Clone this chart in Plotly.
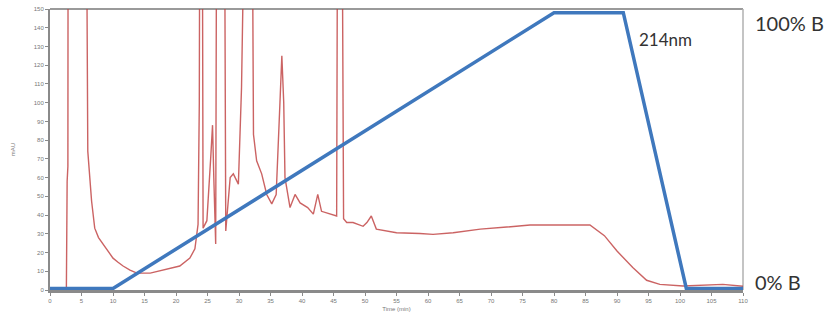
import plotly.graph_objects as go

# Chromatogram (214 nm) — time in min, absorbance in mAU (values > 150 are off-scale)
time_min = [0, 1, 2, 2.6, 2.72, 2.78, 2.84, 2.92, 5.6, 5.8, 6.0, 6.6, 7.1, 7.7, 8.4, 9.2, 10, 10.8,
            11.6, 12.7, 13.8, 15.9, 18, 20.6, 22.2, 23.0, 23.5, 23.7, 23.9, 24.05, 24.3, 24.9,
            25.5, 25.8, 26.0, 26.3, 26.6, 27.5, 27.9, 28.6, 29.1, 29.9, 30.4, 30.9, 31.8, 32.3,
            32.8, 33.6, 34.4, 35.2, 35.9, 36.5, 36.8, 37.1, 37.3, 38.1, 38.9, 39.7, 40.9, 41.8,
            42.5, 43.1, 44.4, 45.5, 45.8, 46.1, 46.6, 47.1, 48.1, 49.7, 50.3, 51.0, 51.8, 55,
            58.7, 60.8, 64, 68.3, 72.5, 76.2, 81, 85.7, 88, 90, 92.5, 94.7, 96.8, 100.5, 106.8, 110]
signal_mau = [1, 1, 1, 1, 58, 63, 66, 400, 400, 200, 74, 47.5, 33, 28, 24.5, 20.5, 17, 14.8,
              12.8, 10.6, 9, 9, 10.7, 12.8, 17, 22, 35, 100, 400, 400, 33, 37,
              70, 88, 60, 24.5, 400, 400, 31.5, 60, 62, 56.5, 108, 400, 400, 83,
              69, 62, 51, 46, 51, 100, 125, 100, 60, 44, 51, 46.5, 44, 40.5,
              51, 42, 40.5, 39.5, 400, 400, 38, 36, 36, 34, 36, 39.5, 32.5, 30.6,
              30.2, 29.7, 30.6, 32.5, 33.6, 34.7, 34.7, 34.7, 29, 20.8, 12, 5.2, 3, 2.1, 3, 2]

# Gradient program (% B)
grad_time = [0, 10, 80, 91, 101, 110]
grad_pct_b = [0, 0, 100, 100, 0, 0]

x_ticks = list(range(0, 111, 5))
y_ticks = list(range(0, 151, 10))

fig = go.Figure()
fig.add_trace(go.Scatter(x=time_min, y=signal_mau, mode="lines",
                         line=dict(color="rgba(190,60,60,0.8)", width=1.4),
                         showlegend=False, hoverinfo="skip"))
fig.add_trace(go.Scatter(x=grad_time, y=grad_pct_b, mode="lines", yaxis="y2",
                         line=dict(color="#3f78bd", width=3.5),
                         showlegend=False, hoverinfo="skip"))

tick_font = dict(family="Liberation Sans, Arial, sans-serif", size=6, color="#777777")

fig.update_layout(
    width=835, height=320,
    margin=dict(l=50, r=92, t=9, b=30, autoexpand=False),
    paper_bgcolor="white", plot_bgcolor="white",
    xaxis=dict(range=[0, 110], tickvals=x_ticks, ticktext=[str(v) for v in x_ticks],
               showgrid=False, zeroline=False, showline=True, linecolor="#8a8a8a",
               linewidth=3, ticks="outside", ticklen=3, tickcolor="#8a8a8a",
               tickfont=tick_font, layer="below traces", automargin=False,
               title=dict(text="Time (min)", font=tick_font, standoff=4)),
    yaxis=dict(range=[0, 150], tickvals=y_ticks, ticktext=[str(v) for v in y_ticks],
               showgrid=False, zeroline=False, showline=True, linecolor="#8a8a8a",
               linewidth=2, ticks="outside", ticklen=3, tickcolor="#8a8a8a",
               tickfont=tick_font, layer="below traces", automargin=False,
               title=dict(text="mAU", font=tick_font, standoff=18)),
    yaxis2=dict(range=[-0.55, 101.35], overlaying="y", side="right", visible=False,
                automargin=False),
    shapes=[
        dict(type="line", xref="paper", yref="paper", x0=0, x1=1, y0=1, y1=1,
             line=dict(color="#9a9a9a", width=2), layer="below"),
        dict(type="line", xref="paper", yref="paper", x0=1, x1=1, y0=0, y1=1,
             line=dict(color="#b0b0b0", width=1.5), layer="below"),
    ],
    annotations=[
        dict(text="100% B", xref="paper", yref="paper", x=1.015, y=0.95,
             xanchor="left", yanchor="middle", showarrow=False,
             font=dict(family="Lato, Open Sans, sans-serif", size=20, color="#333333")),
        dict(text="0% B", xref="paper", yref="paper", x=1.015, y=0.03,
             xanchor="left", yanchor="middle", showarrow=False,
             font=dict(family="Lato, Open Sans, sans-serif", size=20, color="#333333")),
        dict(text="214nm", xref="paper", yref="paper", x=0.847, y=0.89,
             xanchor="left", yanchor="middle", showarrow=False,
             font=dict(family="Lato, Open Sans, sans-serif", size=17, color="#333333")),
    ],
)

fig.write_html("out.html", config={"displayModeBar": False},
               post_script="document.body.style.margin='0';document.body.style.overflow='hidden';")
